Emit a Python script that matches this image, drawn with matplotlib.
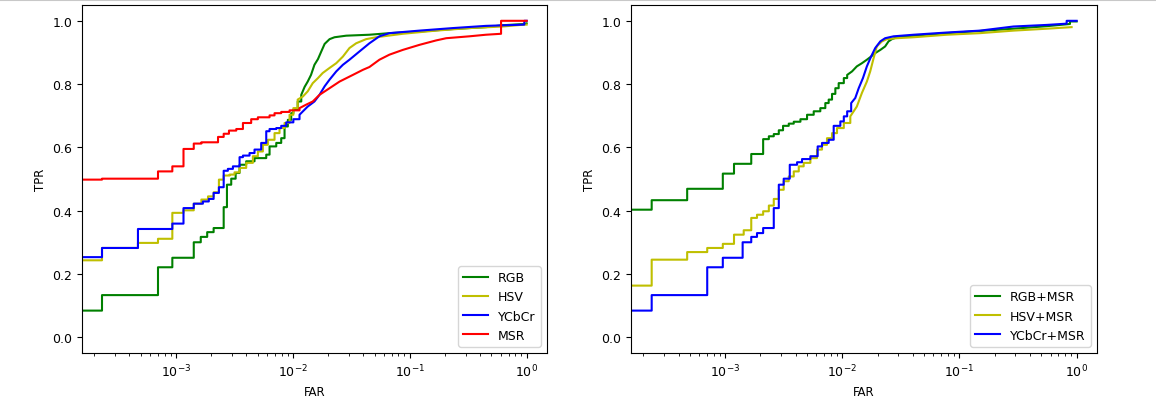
import matplotlib
matplotlib.use("Agg")
import matplotlib.pyplot as plt
from matplotlib.lines import Line2D

# ---- left panel: single colour spaces ----
rgb_far = [1e-4, 2.33e-4, 7.02e-4, 9.31e-4, 1.42e-3, 1.63e-3, 1.85e-3, 2.10e-3,
           2.56e-3, 2.73e-3, 2.97e-3, 3.24e-3, 3.50e-3, 3.99e-3, 4.70e-3, 5.92e-3,
           6.32e-3, 7.21e-3, 7.95e-3, 8.49e-3, 9.06e-3, 9.68e-3, 1.01e-2, 1.10e-2,
           1.18e-2, 1.26e-2, 1.34e-2, 1.43e-2, 1.53e-2, 1.64e-2, 1.75e-2, 1.87e-2,
           2.06e-2, 2.27e-2, 2.86e-2, 4.52e-2, 6.70e-2, 0.121, 0.233, 0.449, 0.624,
           0.955, 1.0]
rgb_tpr = [0.084, 0.133, 0.221, 0.251, 0.300, 0.317, 0.332, 0.345,
           0.411, 0.482, 0.501, 0.519, 0.545, 0.556, 0.566, 0.577,
           0.603, 0.614, 0.629, 0.666, 0.687, 0.708, 0.719, 0.745,
           0.766, 0.791, 0.808, 0.829, 0.861, 0.879, 0.903, 0.927,
           0.942, 0.948, 0.953, 0.956, 0.961, 0.966, 0.974, 0.980, 0.986,
           0.990, 0.992]

hsv_far = [1e-4, 2.33e-4, 4.73e-4, 7.02e-4, 9.31e-4, 1.16e-3, 1.42e-3, 1.65e-3,
           1.88e-3, 2.10e-3, 2.33e-3, 2.56e-3, 2.88e-3, 3.17e-3, 3.50e-3, 3.99e-3,
           4.55e-3, 5.02e-3, 5.54e-3, 6.11e-3, 6.97e-3, 7.69e-3, 8.49e-3, 9.37e-3,
           1.01e-2, 1.10e-2, 1.22e-2, 1.34e-2, 1.48e-2, 1.64e-2, 1.80e-2, 2.06e-2,
           2.35e-2, 2.68e-2, 3.05e-2, 3.48e-2, 4.23e-2, 5.16e-2, 8.71e-2, 0.168,
           0.324, 0.624, 0.955, 1.0]
hsv_tpr = [0.243, 0.282, 0.298, 0.311, 0.393, 0.401, 0.422, 0.435,
           0.445, 0.458, 0.498, 0.511, 0.514, 0.521, 0.535, 0.551,
           0.572, 0.587, 0.608, 0.624, 0.645, 0.661, 0.677, 0.703,
           0.724, 0.751, 0.761, 0.777, 0.803, 0.819, 0.835, 0.851,
           0.866, 0.887, 0.914, 0.929, 0.942, 0.948, 0.959, 0.969,
           0.977, 0.982, 0.988, 0.988]

ycc_far = [1e-4, 2.33e-4, 4.73e-4, 9.31e-4, 1.16e-3, 1.42e-3, 1.70e-3, 1.91e-3,
           2.10e-3, 2.33e-3, 2.56e-3, 2.78e-3, 3.07e-3, 3.50e-3, 3.74e-3, 4.26e-3,
           4.70e-3, 5.36e-3, 5.92e-3, 6.32e-3, 7.21e-3, 7.95e-3, 8.77e-3, 1.01e-2,
           1.14e-2, 1.22e-2, 1.34e-2, 1.53e-2, 1.69e-2, 1.87e-2, 2.06e-2, 2.35e-2,
           2.68e-2, 3.05e-2, 3.71e-2, 4.52e-2, 5.50e-2, 6.70e-2, 0.121, 0.233,
           0.449, 0.811, 0.955, 0.955, 1.0]
ycc_tpr = [0.253, 0.282, 0.342, 0.359, 0.408, 0.422, 0.429, 0.437,
           0.456, 0.474, 0.526, 0.532, 0.540, 0.569, 0.574, 0.582,
           0.593, 0.614, 0.651, 0.658, 0.661, 0.668, 0.679, 0.689,
           0.703, 0.714, 0.729, 0.745, 0.766, 0.793, 0.814, 0.840,
           0.861, 0.877, 0.903, 0.929, 0.951, 0.961, 0.969, 0.977,
           0.984, 0.987, 0.988, 1.0, 1.0]

msr_far = [1e-4, 2.33e-4, 7.02e-4, 9.31e-4, 1.16e-3, 1.42e-3, 1.65e-3, 2.29e-3,
           2.56e-3, 2.84e-3, 3.28e-3, 3.74e-3, 4.40e-3, 5.02e-3, 6.32e-3, 6.97e-3,
           7.95e-3, 9.37e-3, 1.14e-2, 1.30e-2, 1.48e-2, 1.69e-2, 2.06e-2, 2.51e-2,
           3.26e-2, 3.97e-2, 4.52e-2, 5.50e-2, 6.70e-2, 8.71e-2, 0.121, 0.168,
           0.205, 0.324, 0.449, 0.604, 0.604, 1.0]
msr_tpr = [0.498, 0.501, 0.524, 0.540, 0.595, 0.612, 0.616, 0.633,
           0.643, 0.653, 0.658, 0.677, 0.689, 0.695, 0.701, 0.708,
           0.712, 0.717, 0.724, 0.735, 0.745, 0.766, 0.787, 0.808,
           0.829, 0.845, 0.854, 0.877, 0.893, 0.908, 0.924, 0.938,
           0.945, 0.951, 0.956, 0.959, 1.0, 1.0]

# ---- right panel: colour space + MSR ----
rgbm_far = [1e-4, 2.36e-4, 4.74e-4, 9.55e-4, 1.19e-3, 1.67e-3, 2.11e-3, 2.36e-3,
            2.60e-3, 2.87e-3, 3.12e-3, 3.49e-3, 3.85e-3, 4.39e-3, 5.00e-3, 5.70e-3,
            6.49e-3, 7.16e-3, 7.65e-3, 8.17e-3, 8.72e-3, 9.31e-3, 1.03e-2, 1.10e-2,
            1.21e-2, 1.33e-2, 1.47e-2, 1.62e-2, 1.73e-2, 1.91e-2, 2.11e-2, 2.32e-2,
            2.48e-2, 2.65e-2, 2.92e-2, 4.06e-2, 7.80e-2, 0.150, 0.289, 0.555,
            0.877, 0.877, 1.0]
rgbm_tpr = [0.403, 0.433, 0.469, 0.517, 0.548, 0.579, 0.626, 0.635,
            0.642, 0.654, 0.668, 0.675, 0.681, 0.689, 0.703, 0.714,
            0.724, 0.740, 0.751, 0.769, 0.787, 0.803, 0.819, 0.829,
            0.840, 0.856, 0.866, 0.877, 0.885, 0.898, 0.908, 0.919,
            0.935, 0.942, 0.948, 0.953, 0.961, 0.968, 0.975, 0.983,
            0.990, 0.998, 0.998]

hsvm_far = [1e-4, 2.36e-4, 4.74e-4, 7.03e-4, 9.55e-4, 1.19e-3, 1.44e-3, 1.67e-3,
            1.87e-3, 2.11e-3, 2.36e-3, 2.60e-3, 2.87e-3, 3.16e-3, 3.49e-3, 3.85e-3,
            4.25e-3, 4.68e-3, 5.34e-3, 6.08e-3, 6.71e-3, 7.40e-3, 8.17e-3, 9.01e-3,
            1.03e-2, 1.17e-2, 1.33e-2, 1.47e-2, 1.62e-2, 1.73e-2, 1.85e-2, 1.97e-2,
            2.18e-2, 2.40e-2, 2.92e-2, 4.06e-2, 7.80e-2, 0.150, 0.289, 0.555, 0.906]
hsvm_tpr = [0.163, 0.245, 0.269, 0.282, 0.295, 0.324, 0.338, 0.377,
            0.387, 0.398, 0.416, 0.437, 0.466, 0.493, 0.508, 0.524,
            0.540, 0.551, 0.566, 0.593, 0.608, 0.629, 0.645, 0.661,
            0.677, 0.698, 0.729, 0.772, 0.808, 0.840, 0.882, 0.919,
            0.935, 0.942, 0.945, 0.948, 0.956, 0.961, 0.969, 0.975, 0.980]

yccm_far = [1e-4, 2.36e-4, 7.03e-4, 9.55e-4, 1.41e-3, 1.67e-3, 1.87e-3, 2.11e-3,
            2.60e-3, 2.87e-3, 3.16e-3, 3.56e-3, 4.11e-3, 4.53e-3, 5.34e-3, 6.16e-3,
            6.71e-3, 7.65e-3, 8.44e-3, 9.62e-3, 1.03e-2, 1.10e-2, 1.19e-2, 1.29e-2,
            1.38e-2, 1.50e-2, 1.62e-2, 1.76e-2, 1.91e-2, 2.11e-2, 2.32e-2, 2.74e-2,
            4.06e-2, 7.80e-2, 0.150, 0.289, 0.555, 0.822, 0.822, 1.0]
yccm_tpr = [0.084, 0.133, 0.221, 0.251, 0.300, 0.317, 0.329, 0.345,
            0.408, 0.482, 0.501, 0.545, 0.553, 0.563, 0.572, 0.603,
            0.614, 0.624, 0.668, 0.682, 0.698, 0.714, 0.740, 0.756,
            0.787, 0.819, 0.856, 0.887, 0.914, 0.935, 0.945, 0.951,
            0.956, 0.963, 0.969, 0.982, 0.987, 0.991, 1.0, 1.0]


def roc_path(far, tpr, smooth_from=1.2e-2):
    # stair corners for the sparse low-FAR part, plain line once samples get dense
    xs, ys = [far[0]], [tpr[0]]
    for f, t in zip(far[1:], tpr[1:]):
        if f < smooth_from:
            xs.append(f)
            ys.append(ys[-1])
        xs.append(f)
        ys.append(t)
    return xs, ys


fig = plt.figure(figsize=(11.56, 4.02), dpi=100)
ax1 = fig.add_axes([0.0709, 0.1194, 0.4022, 0.8657])
ax2 = fig.add_axes([0.5458, 0.1194, 0.4031, 0.8657])

ax1.plot(*roc_path(rgb_far, rgb_tpr), color="g", lw=1.5, label="RGB")
ax1.plot(*roc_path(hsv_far, hsv_tpr), color="y", lw=1.5, label="HSV")
ax1.plot(*roc_path(ycc_far, ycc_tpr), color="b", lw=1.5, label="YCbCr")
ax1.plot(*roc_path(msr_far, msr_tpr), color="r", lw=1.5, label="MSR")

ax2.plot(*roc_path(rgbm_far, rgbm_tpr), color="g", lw=1.5, label="RGB+MSR")
ax2.plot(*roc_path(hsvm_far, hsvm_tpr), color="y", lw=1.5, label="HSV+MSR")
ax2.plot(*roc_path(yccm_far, yccm_tpr), color="b", lw=1.5, label="YCbCr+MSR")

for ax in (ax1, ax2):
    ax.set_xscale("log")
    ax.set_xlim(1.57e-4, 1.49)
    ax.set_ylim(-0.05, 1.05)
    ax.set_yticks([0.0, 0.2, 0.4, 0.6, 0.8, 1.0])
    ax.tick_params(labelsize=9)
    ax.set_xlabel("FAR", fontsize=8.5)
    ax.set_ylabel("TPR", fontsize=8.5)
    ax.legend(loc="lower right", fontsize=9)

fig.add_artist(Line2D([0, 1], [0.997, 0.997], color="#c8c8c8", lw=1.5))

fig.savefig("out.png", dpi=100)
